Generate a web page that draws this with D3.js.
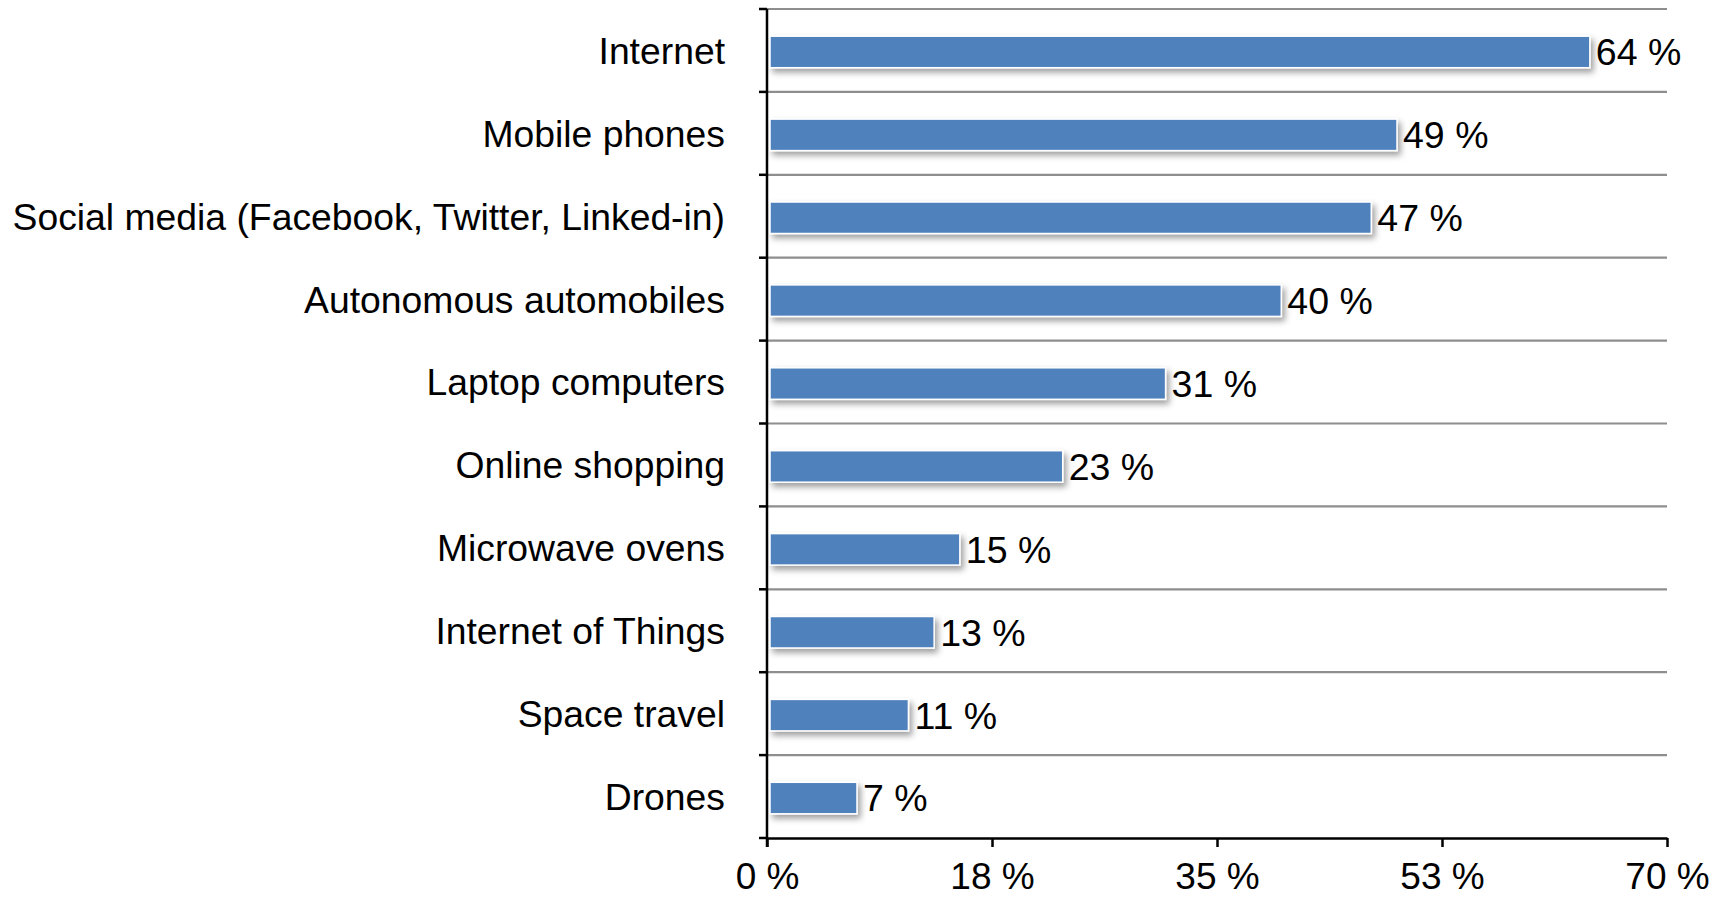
<!DOCTYPE html>
<html>
<head>
<meta charset="utf-8">
<script src="https://cdn.jsdelivr.net/npm/d3@7"></script>
<style>
  html, body { margin: 0; padding: 0; background: #fff; }
  svg { display: block; font-family: "Liberation Sans", Arial, Helvetica, sans-serif; }
</style>
</head>
<body>
<svg id="chart" width="1712" height="900"></svg>
<script>
// Technologies and share of respondents (%)
const categories = [
  "Internet",
  "Mobile phones",
  "Social media (Facebook, Twitter, Linked-in)",
  "Autonomous automobiles",
  "Laptop computers",
  "Online shopping",
  "Microwave ovens",
  "Internet of Things",
  "Space travel",
  "Drones"
];
const values = [64, 49, 47, 40, 31, 23, 15, 13, 11, 7];

// Axis ticks sit at quarters of the 0–70 range; labels are rounded
const tickValues = [0, 17.5, 35, 52.5, 70];
const tickLabels = ["0 %", "18 %", "35 %", "53 %", "70 %"];

const svg = d3.select("#chart");
const margin = { left: 767, top: 9, right: 45, bottom: 62 };
const width = 1712 - margin.left - margin.right;   // 900
const height = 900 - margin.top - margin.bottom;   // 829

const defs = svg.append("defs");
const shadow = defs.append("filter")
  .attr("id", "barShadow")
  .attr("x", "-5%").attr("y", "-30%")
  .attr("width", "115%").attr("height", "180%");
shadow.append("feDropShadow")
  .attr("dx", 3).attr("dy", 4)
  .attr("stdDeviation", 3)
  .attr("flood-color", "#000")
  .attr("flood-opacity", 0.38);

const g = svg.append("g").attr("transform", `translate(${margin.left},${margin.top})`);

const x = d3.scaleLinear().domain([0, 70]).range([0, width]);
const y = d3.scaleBand().domain(categories).range([0, height]).paddingInner(0.62).paddingOuter(0.31);
const band = d3.scaleBand().domain(categories).range([0, height]);

// Horizontal gridlines at category boundaries
const boundaries = d3.range(categories.length).map(i => band(categories[i]));
g.append("g").selectAll("line")
  .data(boundaries)
  .join("line")
  .attr("x1", 0).attr("x2", width)
  .attr("y1", d => d).attr("y2", d => d)
  .attr("stroke", "#8e8e8e")
  .attr("stroke-width", 2.2);

// Bars
g.append("g").selectAll("rect")
  .data(values)
  .join("rect")
  .attr("x", x(0) + 3)
  .attr("y", (d, i) => y(categories[i]) + 1.5)
  .attr("width", d => x(d) - x(0) - 3)
  .attr("height", y.bandwidth())
  .attr("fill", "#4f81bd")
  .attr("stroke", "#ffffff")
  .attr("stroke-width", 1.5)
  .attr("filter", "url(#barShadow)");

// Value labels
const valueFont = 37.5;
g.append("g").selectAll("text")
  .data(values)
  .join("text")
  .attr("x", d => x(d) + 6)
  .attr("y", (d, i) => y(categories[i]) + 1.5 + y.bandwidth() / 2 + valueFont * 0.358)
  .attr("font-size", valueFont)
  .attr("fill", "#000")
  .text(d => `${d} %`);

// Category labels
const catFont = 37.3;
g.append("g").selectAll("text")
  .data(categories)
  .join("text")
  .attr("x", -42)
  .attr("y", d => band(d) + band.bandwidth() / 2 + catFont * 0.358)
  .attr("text-anchor", "end")
  .attr("font-size", catFont)
  .attr("fill", "#000")
  .text(d => d);

// Y axis line with ticks at category boundaries
g.append("line")
  .attr("x1", 0).attr("x2", 0)
  .attr("y1", 0).attr("y2", height + 9)
  .attr("stroke", "#000").attr("stroke-width", 2.5);
g.append("g").selectAll("line")
  .data(boundaries.concat([height]))
  .join("line")
  .attr("x1", -8).attr("x2", 0)
  .attr("y1", d => d).attr("y2", d => d)
  .attr("stroke", "#000").attr("stroke-width", 2.5);

// X axis
const xAxis = d3.axisBottom(x)
  .tickValues(tickValues)
  .tickFormat((d, i) => tickLabels[i])
  .tickSize(9)
  .tickPadding(16)
  .tickSizeOuter(0);
const xg = g.append("g").attr("transform", `translate(0,${height})`).call(xAxis);
xg.select(".domain").attr("stroke", "#000").attr("stroke-width", 2.5);
xg.selectAll(".tick line").attr("stroke", "#000").attr("stroke-width", 2.5);
xg.selectAll(".tick text")
  .attr("font-size", 37)
  .attr("font-family", "\"Liberation Sans\", Arial, sans-serif")
  .attr("fill", "#000");
</script>
</body>
</html>
